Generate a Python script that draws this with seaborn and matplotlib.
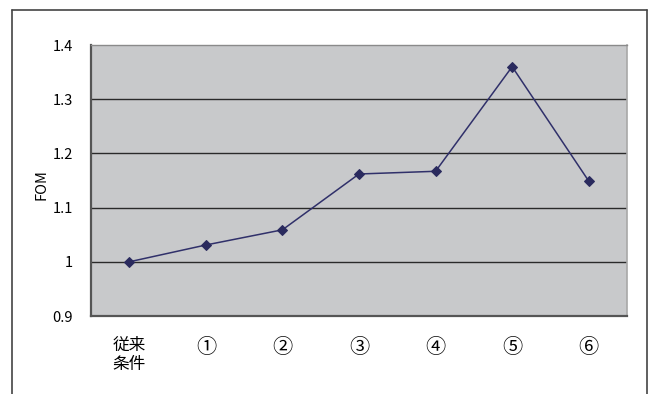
import matplotlib
matplotlib.use("Agg")
import matplotlib.pyplot as plt
from matplotlib.lines import Line2D
import seaborn as sns
import pandas as pd
import numpy as np

categories = ["従来\n条件", "①", "②", "③", "④", "⑤", "⑥"]
fom = [1.000, 1.031, 1.059, 1.162, 1.167, 1.360, 1.149]
y_ticks = [0.9, 1.0, 1.1, 1.2, 1.3, 1.4]
y_labels = ["0.9", "1", "1.1", "1.2", "1.3", "1.4"]

sns.set_style("white")
plt.rcParams['font.family'] = ['Noto Sans CJK JP', 'DejaVu Sans']

fig = plt.figure(figsize=(6.48, 3.94), dpi=100)
ax = fig.add_axes([91/648, 1-316/394, (627-91)/648, (316-45)/394])
ax.set_facecolor("#c8c9cb")

df = pd.DataFrame({"pos": np.arange(len(categories)), "FOM": fom})
for y in [1.0, 1.1, 1.2, 1.3]:
    ax.axhline(y, color="#2a2a2a", lw=1.0, zorder=1)
sns.lineplot(data=df, x="pos", y="FOM", ax=ax, color="#30306a", lw=1.1,
             marker="D", markersize=5, markeredgecolor="#2a2a5e",
             markerfacecolor="#2a2a5e", zorder=3)

ax.set_xlim(-0.5, len(categories) - 0.5)
ax.set_ylim(0.9, 1.4)
ax.set_yticks(y_ticks)
ax.set_yticklabels(y_labels, fontsize=10.5, color="#000000")
ax.set_xticks(np.arange(-0.5, len(categories), 1.0))
ax.set_xticklabels([])
ax.set_xticks(np.arange(len(categories)), minor=True)
ax.set_xticklabels(categories, minor=True, fontsize=12, color="#000000",
                   linespacing=1.15, va="top")
for lbl in ax.get_xticklabels(minor=True)[1:]:
    lbl.set_fontsize(14.5)
ax.tick_params(axis="x", which="major", direction="in", length=5, width=1, color="#444444")
ax.tick_params(axis="x", which="minor", length=0, pad=15)
ax.tick_params(axis="y", which="major", direction="out", length=2, width=1,
               color="#555555", pad=11)
ax.set_xlabel("")
ax.set_ylabel("")

for side, c, w in [("left", "#555555", 1.6), ("bottom", "#555555", 1.6),
                   ("top", "#8a8a8a", 1.0), ("right", "#a8a8a8", 1.2)]:
    ax.spines[side].set_visible(True)
    ax.spines[side].set_color(c)
    ax.spines[side].set_linewidth(w)

fig.text(41.5/648, 1-185/394, "FOM", rotation=90, ha="center", va="center",
         fontsize=10.5, color="#000000")

# outer chart border (open at the bottom)
bx0, bx1, by0 = 11.5/648, 646.5/648, 1-9.5/394
for xs, ys in [([bx0, bx0], [0, by0]), ([bx0, bx1], [by0, by0]), ([bx1, bx1], [by0, 0])]:
    fig.add_artist(Line2D(xs, ys, transform=fig.transFigure, color="#444444", lw=1.2))

fig.savefig("out.png", dpi=100)
